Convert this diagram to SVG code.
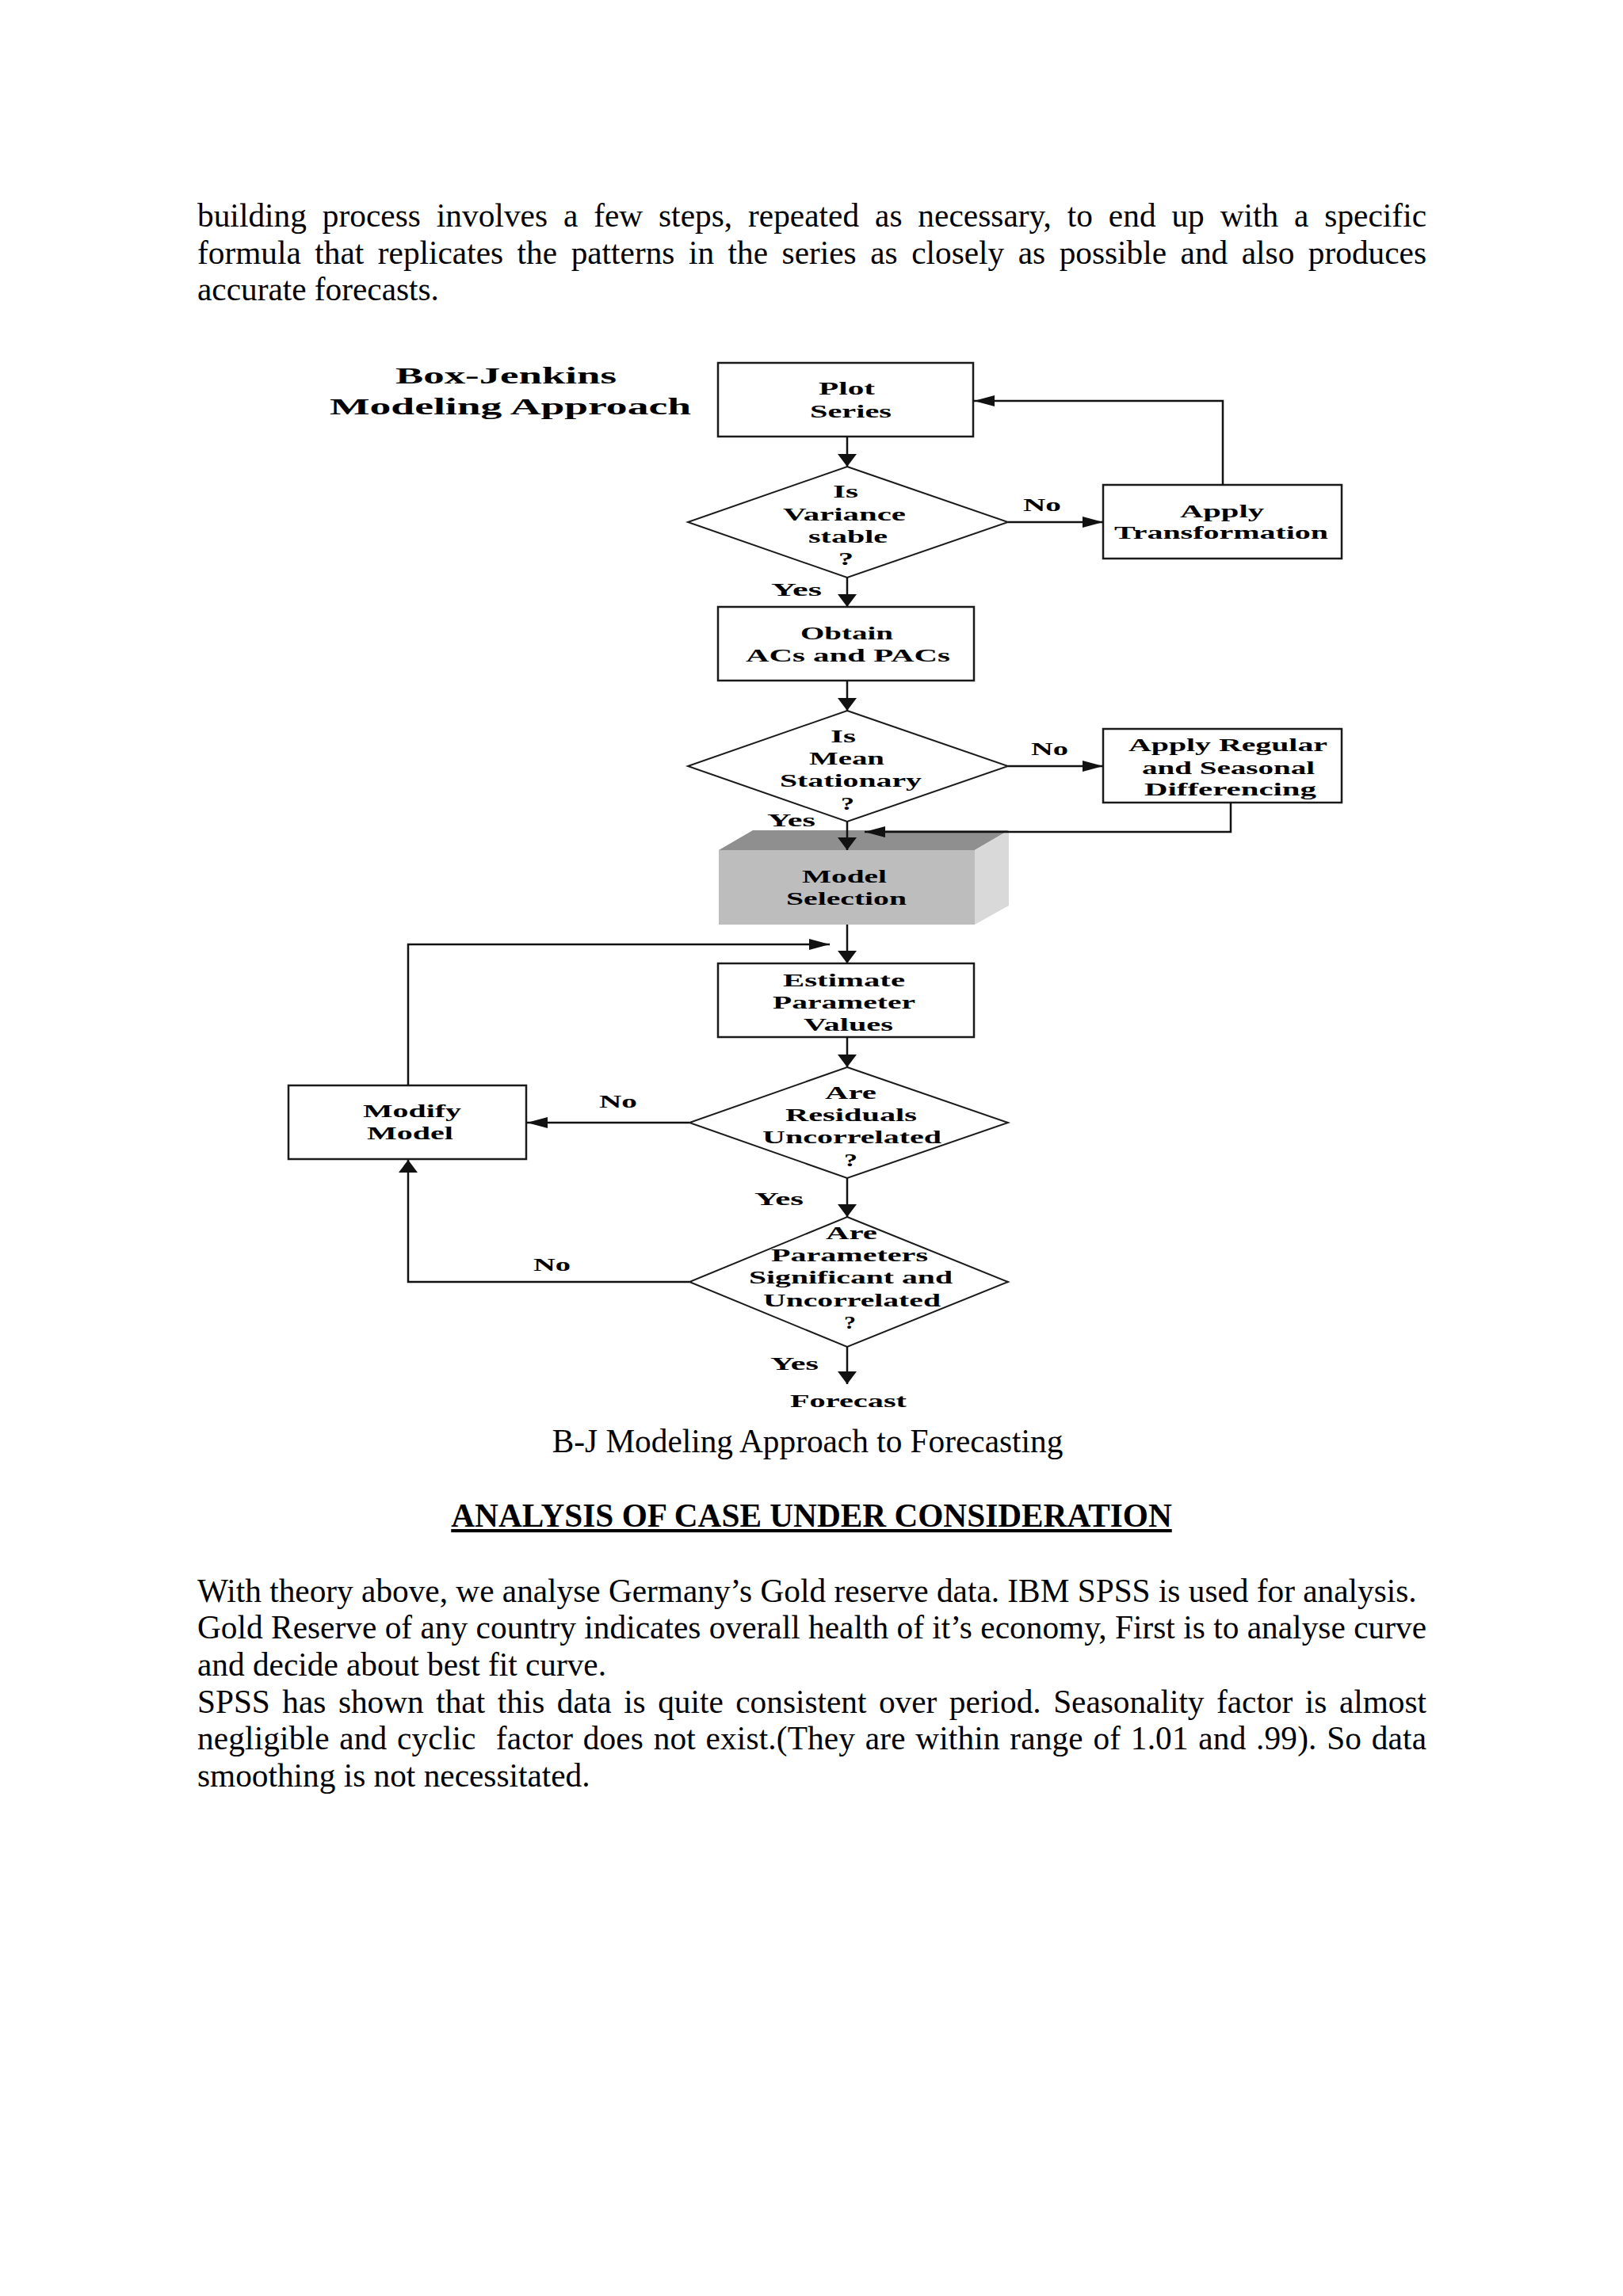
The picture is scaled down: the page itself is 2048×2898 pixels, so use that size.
<svg xmlns="http://www.w3.org/2000/svg" width="2048" height="2898" viewBox="0 0 2048 2898">
<style>
.body{font-family:"Liberation Serif","Times New Roman",serif;font-size:41.3px;fill:#000}
.hd{font-family:"Liberation Serif","Times New Roman",serif;font-size:41.3px;font-weight:bold;fill:#000}
.dt{font-family:"Liberation Serif","Times New Roman",serif;font-size:23px;font-weight:bold;fill:#000}
.tt{font-family:"Liberation Serif","Times New Roman",serif;font-size:29px;font-weight:bold;fill:#000}
.box{fill:#fff;stroke:#1a1a1a;stroke-width:2.5}
.dia{fill:#fff;stroke:#1a1a1a;stroke-width:2}
.con{fill:none;stroke:#111;stroke-width:2.5}
</style>
<defs>
<marker id="arrV" markerUnits="userSpaceOnUse" viewBox="0 0 16 26" markerWidth="16" markerHeight="26" refX="16" refY="13" orient="auto"><path d="M0,1 L16,13 L0,25 z" fill="#111"/></marker>
<marker id="arrH" markerUnits="userSpaceOnUse" viewBox="0 0 26 14" markerWidth="26" markerHeight="14" refX="26" refY="7" orient="auto"><path d="M0,0 L26,7 L0,14 z" fill="#111"/></marker>
</defs>
<rect width="2048" height="2898" fill="#fff"/>

<g id="intro">
<text class="body" x="249" y="286" word-spacing="9.5" textLength="1551" lengthAdjust="spacing">building process involves a few steps, repeated as necessary, to end up with a specific</text>
<text class="body" x="249" y="333" word-spacing="7.2" textLength="1551" lengthAdjust="spacing">formula that replicates the patterns in the series as closely as possible and also produces</text>
<text class="body" x="249" y="379">accurate forecasts.</text>
</g>

<g id="title">
<text class="tt" x="499" y="484" textLength="279" lengthAdjust="spacingAndGlyphs">Box-Jenkins</text>
<text class="tt" x="416" y="523" textLength="456" lengthAdjust="spacingAndGlyphs">Modeling Approach</text>
</g>

<g id="plot-series">
<rect class="box" x="906" y="458" width="322" height="93"/>
<text class="dt" x="1033" y="498" textLength="71" lengthAdjust="spacingAndGlyphs">Plot</text>
<text class="dt" x="1022" y="527" textLength="103" lengthAdjust="spacingAndGlyphs">Series</text>
</g>

<g id="variance-stable">
<polygon class="dia" points="1069,589 1272,659 1069,729 868,659"/>
<text class="dt" x="1051" y="628" textLength="32" lengthAdjust="spacingAndGlyphs">Is</text>
<text class="dt" x="988" y="657" textLength="155" lengthAdjust="spacingAndGlyphs">Variance</text>
<text class="dt" x="1020" y="685" textLength="100" lengthAdjust="spacingAndGlyphs">stable</text>
<text class="dt" x="1058" y="713" textLength="19" lengthAdjust="spacingAndGlyphs">?</text>
</g>

<g id="apply-transformation">
<rect class="box" x="1392" y="612" width="301" height="93"/>
<text class="dt" x="1489" y="653" textLength="106" lengthAdjust="spacingAndGlyphs">Apply</text>
<text class="dt" x="1406" y="680" textLength="270" lengthAdjust="spacingAndGlyphs">Transformation</text>
</g>

<g id="obtain-acs">
<rect class="box" x="906" y="766" width="323" height="93"/>
<text class="dt" x="1010" y="807" textLength="117" lengthAdjust="spacingAndGlyphs">Obtain</text>
<text class="dt" x="941" y="835" textLength="258" lengthAdjust="spacingAndGlyphs">ACs and PACs</text>
</g>

<g id="mean-stationary">
<polygon class="dia" points="1069,897 1272,967 1069,1037 868,967"/>
<text class="dt" x="1048" y="937" textLength="32" lengthAdjust="spacingAndGlyphs">Is</text>
<text class="dt" x="1021" y="965" textLength="95" lengthAdjust="spacingAndGlyphs">Mean</text>
<text class="dt" x="984" y="993" textLength="179" lengthAdjust="spacingAndGlyphs">Stationary</text>
<text class="dt" x="1061" y="1022" textLength="17" lengthAdjust="spacingAndGlyphs">?</text>
</g>

<g id="apply-differencing">
<rect class="box" x="1392" y="920" width="301" height="93"/>
<text class="dt" x="1424" y="948" textLength="251" lengthAdjust="spacingAndGlyphs">Apply Regular</text>
<text class="dt" x="1441" y="977" textLength="218" lengthAdjust="spacingAndGlyphs">and Seasonal</text>
<text class="dt" x="1444" y="1004" textLength="217" lengthAdjust="spacingAndGlyphs">Differencing</text>
</g>

<g id="model-selection">
<polygon points="907,1073 950,1048 1273,1048 1230,1073" fill="#8f8f8f"/>
<polygon points="1230,1073 1273,1048 1273,1143 1230,1167" fill="#d9d9d9"/>
<rect x="907" y="1073" width="323" height="94" fill="#bdbdbd"/>
<text class="dt" x="1012" y="1114" textLength="107" lengthAdjust="spacingAndGlyphs">Model</text>
<text class="dt" x="992" y="1142" textLength="152" lengthAdjust="spacingAndGlyphs">Selection</text>
</g>

<g id="estimate-parameters">
<rect class="box" x="906" y="1216" width="323" height="93"/>
<text class="dt" x="988" y="1245" textLength="154" lengthAdjust="spacingAndGlyphs">Estimate</text>
<text class="dt" x="975" y="1273" textLength="180" lengthAdjust="spacingAndGlyphs">Parameter</text>
<text class="dt" x="1014" y="1301" textLength="113" lengthAdjust="spacingAndGlyphs">Values</text>
</g>

<g id="residuals-uncorrelated">
<polygon class="dia" points="1069,1347 1272,1417 1069,1487 870,1417"/>
<text class="dt" x="1041" y="1387" textLength="65" lengthAdjust="spacingAndGlyphs">Are</text>
<text class="dt" x="991" y="1415" textLength="166" lengthAdjust="spacingAndGlyphs">Residuals</text>
<text class="dt" x="962" y="1443" textLength="226" lengthAdjust="spacingAndGlyphs">Uncorrelated</text>
<text class="dt" x="1065" y="1472" textLength="17" lengthAdjust="spacingAndGlyphs">?</text>
</g>

<g id="modify-model">
<rect class="box" x="364" y="1370" width="300" height="93"/>
<text class="dt" x="458" y="1410" textLength="124" lengthAdjust="spacingAndGlyphs">Modify</text>
<text class="dt" x="463" y="1438" textLength="109" lengthAdjust="spacingAndGlyphs">Model</text>
</g>

<g id="parameters-significant">
<polygon class="dia" points="1069,1536 1272,1618 1069,1700 870,1618"/>
<text class="dt" x="1042" y="1564" textLength="65" lengthAdjust="spacingAndGlyphs">Are</text>
<text class="dt" x="973" y="1592" textLength="198" lengthAdjust="spacingAndGlyphs">Parameters</text>
<text class="dt" x="945" y="1620" textLength="257" lengthAdjust="spacingAndGlyphs">Significant and</text>
<text class="dt" x="963" y="1649" textLength="224" lengthAdjust="spacingAndGlyphs">Uncorrelated</text>
<text class="dt" x="1065" y="1677" textLength="15" lengthAdjust="spacingAndGlyphs">?</text>
</g>

<g id="forecast">
<text class="dt" x="997" y="1776" textLength="147" lengthAdjust="spacingAndGlyphs">Forecast</text>
</g>

<g id="connectors">
<path class="con" d="M1069,551 V589" marker-end="url(#arrV)"/>
<path class="con" d="M1069,729 V766" marker-end="url(#arrV)"/>
<path class="con" d="M1069,859 V897" marker-end="url(#arrV)"/>
<path class="con" d="M1069,1037 V1073" marker-end="url(#arrV)"/>
<path class="con" d="M1069,1167 V1216" marker-end="url(#arrV)"/>
<path class="con" d="M1069,1309 V1347" marker-end="url(#arrV)"/>
<path class="con" d="M1069,1487 V1536" marker-end="url(#arrV)"/>
<path class="con" d="M1069,1700 V1747" marker-end="url(#arrV)"/>
<path class="con" d="M1272,659 H1392" marker-end="url(#arrH)"/>
<path class="con" d="M1543,612 V506 H1229" marker-end="url(#arrH)"/>
<path class="con" d="M1272,967 H1392" marker-end="url(#arrH)"/>
<path class="con" d="M1553,1013 V1050 H1091" marker-end="url(#arrH)"/>
<path class="con" d="M870,1417 H665" marker-end="url(#arrH)"/>
<path class="con" d="M870,1618 H515 V1464" marker-end="url(#arrV)"/>
<path class="con" d="M515,1370 V1192 H1047" marker-end="url(#arrH)"/>
<text class="dt" x="1291" y="645" textLength="48" lengthAdjust="spacingAndGlyphs">No</text>
<text class="dt" x="973" y="752" textLength="64" lengthAdjust="spacingAndGlyphs">Yes</text>
<text class="dt" x="1301" y="953" textLength="47" lengthAdjust="spacingAndGlyphs">No</text>
<text class="dt" x="968" y="1043" textLength="61" lengthAdjust="spacingAndGlyphs">Yes</text>
<text class="dt" x="756" y="1398" textLength="48" lengthAdjust="spacingAndGlyphs">No</text>
<text class="dt" x="952" y="1521" textLength="62" lengthAdjust="spacingAndGlyphs">Yes</text>
<text class="dt" x="673" y="1604" textLength="47" lengthAdjust="spacingAndGlyphs">No</text>
<text class="dt" x="972" y="1729" textLength="61" lengthAdjust="spacingAndGlyphs">Yes</text>
</g>

<g id="caption">
<text class="body" x="1019" y="1833" text-anchor="middle">B-J Modeling Approach to Forecasting</text>
</g>

<g id="analysis">
<text class="hd" x="1024" y="1927" text-anchor="middle" text-decoration="underline">ANALYSIS OF CASE UNDER CONSIDERATION</text>
<text class="body" x="249" y="2022">With theory above, we analyse Germany’s Gold reserve data. IBM SPSS is used for analysis.</text>
<text class="body" x="249" y="2068" textLength="1551" lengthAdjust="spacing">Gold Reserve of any country indicates overall health of it’s economy, First is to analyse curve</text>
<text class="body" x="249" y="2115">and decide about best fit curve.</text>
<text class="body" x="249" y="2162" word-spacing="5.2" textLength="1551" lengthAdjust="spacing">SPSS has shown that this data is quite consistent over period. Seasonality factor is almost</text>
<text class="body" x="249" y="2208" xml:space="preserve" word-spacing="2.2" textLength="1551" lengthAdjust="spacing">negligible and cyclic  factor does not exist.(They are within range of 1.01 and .99). So data</text>
<text class="body" x="249" y="2255">smoothing is not necessitated.</text>
</g>
</svg>
